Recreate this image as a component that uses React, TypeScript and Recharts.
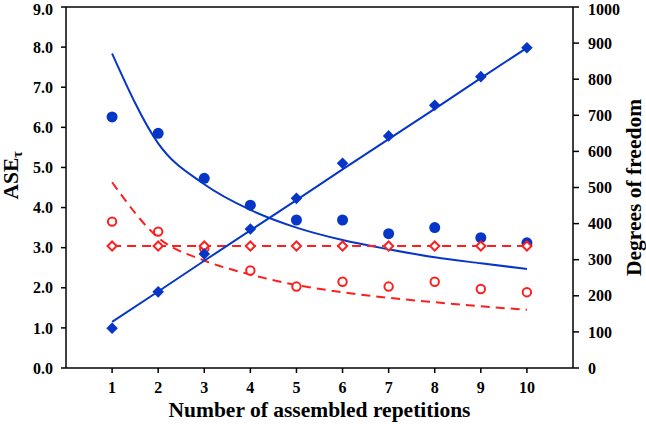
import { ComposedChart, Line, XAxis, YAxis, ReferenceLine, Label } from 'recharts';

const reps = [1, 2, 3, 4, 5, 6, 7, 8, 9, 10];
// ASE values, blue group
const aseBlue = [6.26, 5.85, 4.73, 4.06, 3.69, 3.69, 3.35, 3.5, 3.25, 3.12];
const aseBlueFit = [7.84, 5.6, 4.58, 3.94, 3.5, 3.19, 2.96, 2.76, 2.61, 2.47];
// ASE values, red group
const aseRed = [3.65, 3.4, 2.98, 2.43, 2.03, 2.15, 2.03, 2.15, 1.97, 1.89];
const aseRedFit = [4.63, 3.25, 2.68, 2.33, 2.07, 1.89, 1.75, 1.64, 1.54, 1.45];
const aseRedFlat = [3.04, 3.04, 3.04, 3.04, 3.04, 3.04, 3.04, 3.04, 3.04, 3.04];
// degrees of freedom
const dof = [110, 211, 316, 385, 470, 567, 643, 728, 807, 887];
const dofFit = [128, 212, 297, 381, 465, 550, 634, 718, 803, 887];

const leftTicks = [0, 1, 2, 3, 4, 5, 6, 7, 8, 9];
const rightTicks = [0, 100, 200, 300, 400, 500, 600, 700, 800, 900, 1000];

const data = reps.map((r, i) => ({
    rep: r,
    aseBlue: aseBlue[i],
    aseBlueFit: aseBlueFit[i],
    aseRed: aseRed[i],
    aseRedFit: aseRedFit[i],
    aseRedFlat: aseRedFlat[i],
    dof: dof[i],
    dofFit: dofFit[i],
}));

const BLUE = '#0636C8';
const RED = '#FF1E1E';
const FONT = '"Liberation Serif", "Times New Roman", serif';
const tickStyle = { fontSize: 16, fontWeight: 700, fill: '#000' };

const blueDot = (p: any) => <circle key={`bc${p.index}`} cx={p.cx} cy={p.cy} r={5.5} fill={BLUE} />;
const redCircle = (p: any) => (
    <circle key={`rc${p.index}`} cx={p.cx} cy={p.cy} r={4.2} fill="#fff" stroke={RED} strokeWidth={2} />
);
const diamond = (cx: number, cy: number, s: number) =>
    `M${cx},${cy - s}L${cx + s},${cy}L${cx},${cy + s}L${cx - s},${cy}Z`;
const blueDiamond = (p: any) => <path key={`bd${p.index}`} d={diamond(p.cx, p.cy, 5.8)} fill={BLUE} />;
const redDiamond = (p: any) => (
    <path key={`rd${p.index}`} d={diamond(p.cx, p.cy, 4.6)} fill="#fff" stroke={RED} strokeWidth={2} />
);

const titleProps = { fontSize: 21.5, fontWeight: 700, fill: '#000' };

export default function App() {
    return (
        <div style={{ position: 'absolute', left: 0, top: 0 }}>
            <style>{`svg text, svg tspan { font-family: ${FONT} !important; }`}</style>
            <ComposedChart width={646} height={424} data={data} margin={{ top: 7, right: 23, left: 16, bottom: 6 }}>
                <XAxis
                    dataKey="rep"
                    type="number"
                    domain={[0, 11]}
                    ticks={reps}
                    height={50}
                    stroke="#000"
                    strokeWidth={1.5}
                    tickSize={5}
                    tickMargin={9}
                    tick={tickStyle}
                >
                    <Label
                        content={({ viewBox }: any) => (
                            <text x={viewBox.x + viewBox.width / 2} y={viewBox.y + 49} textAnchor="middle" {...titleProps}>
                                Number of assembled repetitions
                            </text>
                        )}
                    />
                </XAxis>
                <YAxis
                    yAxisId="left"
                    domain={[0, 9]}
                    ticks={leftTicks}
                    tickFormatter={(v) => v.toFixed(1)}
                    width={50}
                    stroke="#000"
                    strokeWidth={1.5}
                    tickSize={5}
                    tickMargin={8}
                    tick={tickStyle}
                >
                    <Label
                        content={({ viewBox }: any) => (
                            <text
                                transform={`translate(${viewBox.x + 2},${viewBox.y + viewBox.height / 2 + 12}) rotate(-90)`}
                                {...titleProps}
                            >
                                ASE
                                <tspan dy={4} fontSize={14}>τ</tspan>
                            </text>
                        )}
                    />
                </YAxis>
                <YAxis
                    yAxisId="right"
                    orientation="right"
                    domain={[0, 1000]}
                    ticks={rightTicks}
                    width={50}
                    stroke="#000"
                    strokeWidth={1.5}
                    tickSize={6}
                    tickMargin={9}
                    tick={tickStyle}
                >
                    <Label
                        content={({ viewBox }: any) => (
                            <text
                                transform={`translate(${viewBox.x + viewBox.width + 18},${viewBox.y + viewBox.height / 2}) rotate(-90)`}
                                textAnchor="middle"
                                {...titleProps}
                            >
                                Degrees of freedom
                            </text>
                        )}
                    />
                </YAxis>
                <ReferenceLine yAxisId="left" y={9} stroke="#000" strokeWidth={1.5} />

                <Line yAxisId="left" dataKey="aseBlue" stroke="none" dot={blueDot} isAnimationActive={false} />
                <Line yAxisId="left" dataKey="aseBlueFit" type="monotone" stroke={BLUE} strokeWidth={2} dot={false} isAnimationActive={false} />
                <Line yAxisId="left" dataKey="aseRed" stroke="none" dot={redCircle} isAnimationActive={false} />
                <Line yAxisId="left" dataKey="aseRedFit" type="monotone" stroke={RED} strokeWidth={2} strokeDasharray="9 6" dot={false} isAnimationActive={false} />
                <Line yAxisId="left" dataKey="aseRedFlat" stroke={RED} strokeWidth={2} strokeDasharray="9 6" dot={redDiamond} isAnimationActive={false} />
                <Line yAxisId="right" dataKey="dofFit" stroke={BLUE} strokeWidth={2} dot={false} isAnimationActive={false} />
                <Line yAxisId="right" dataKey="dof" stroke="none" dot={blueDiamond} isAnimationActive={false} />
            </ComposedChart>
        </div>
    );
}
